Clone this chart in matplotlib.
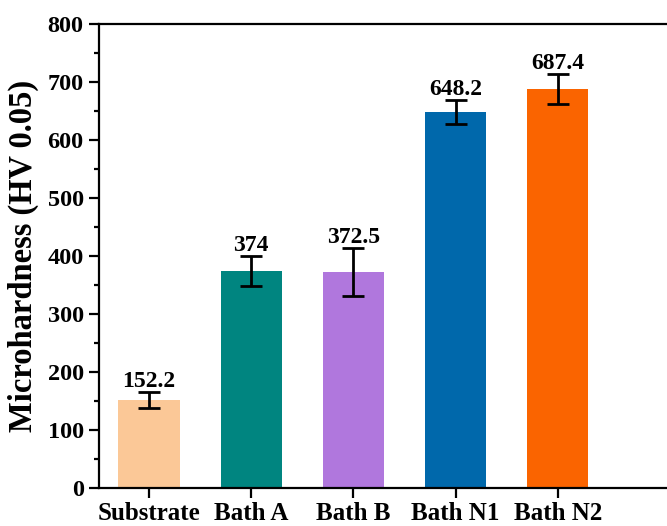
import matplotlib.pyplot as plt
from matplotlib.ticker import MultipleLocator

# microhardness des echantillons (HV 0.05)
samples = ["Substrate", "Bath A", "Bath B", "Bath N1", "Bath N2"]
hardness = [152.2, 374, 372.5, 648.2, 687.4]
errors = [14, 26, 42, 20, 26]
labels = ["152.2", "374", "372.5", "648.2", "687.4"]
colors = ["#FBC897", "#008580", "#B077DD", "#0068AB", "#FA6400"]

plt.rcParams["font.family"] = ["Liberation Serif", "DejaVu Serif"]
plt.rcParams["font.weight"] = "bold"

fig = plt.figure(figsize=(6.67, 5.26), dpi=100)
# l'axe depasse a droite (bord droit hors cadre)
ax = fig.add_axes([0.1484, 0.0722, 0.9175, 0.8821])

x = range(len(samples))
ax.bar(x, hardness, width=0.6, color=colors, zorder=2)
ax.errorbar(x, hardness, yerr=errors, fmt="none", ecolor="black",
            elinewidth=2, capsize=8, capthick=2, zorder=3)

for xi, h, e, lab in zip(x, hardness, errors, labels):
    ax.annotate(lab, (xi, h + e), xytext=(0, 0), textcoords="offset points",
                ha="center", va="bottom", fontsize=17, fontweight="bold")

ax.set_xlim(-0.49, 5.5)
ax.set_ylim(0, 800)
ax.set_xticks(list(x))
ax.set_xticklabels(samples)
ax.yaxis.set_major_locator(MultipleLocator(100))
ax.yaxis.set_minor_locator(MultipleLocator(50))
ax.set_ylabel("Microhardness (HV 0.05)", fontsize=23.5, fontweight="bold", labelpad=6)

for side in ["left", "bottom", "top"]:
    ax.spines[side].set_linewidth(1.6)
ax.spines["right"].set_visible(False)
ax.tick_params(axis="both", which="major", direction="out", length=7, width=1.6)
ax.tick_params(axis="y", which="major", labelsize=17.5, pad=4)
ax.tick_params(axis="x", which="major", labelsize=18, pad=3)
ax.tick_params(axis="y", which="minor", direction="out", length=3.5, width=1.6)

fig.savefig("out.png", dpi=100)
